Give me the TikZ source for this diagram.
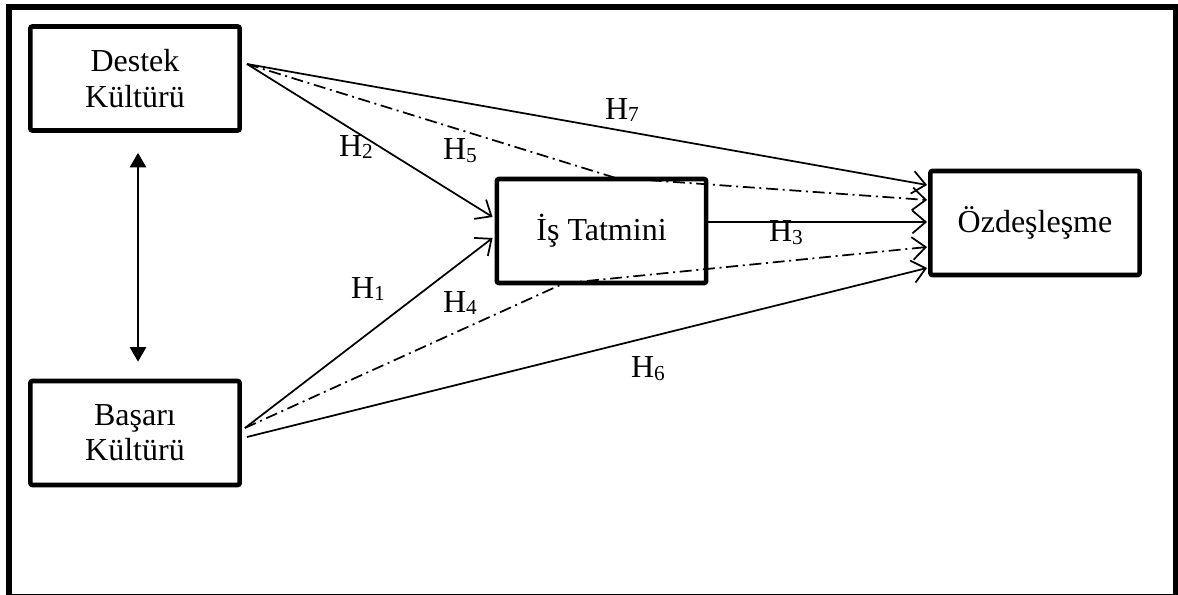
\documentclass[tikz,border=0pt]{standalone}
\usepackage{fontspec}
\setmainfont{Liberation Serif}
\usetikzlibrary{arrows.meta,calc}
% hypothesis label: H with a lowered smaller index
\newcommand\Hyp[1]{H\raisebox{-2.2pt}{\fontsize{16pt}{16pt}\selectfont #1}}
\begin{document}
\begin{tikzpicture}[x=0.75pt,y=-0.75pt,
  construct/.style={draw, line width=3.4pt, rounded corners=1.5pt,
    minimum width=157pt, minimum height=78pt, inner sep=0pt, align=center,
    font=\fontsize{24pt}{26.5pt}\selectfont},
  hyp/.style={font=\fontsize{24pt}{26.5pt}\selectfont, inner sep=0pt},
  direct/.style={line width=1.3pt,
    -{Straight Barb[length=10pt,width=17pt,line width=1.3pt]}},
  indirect/.style={direct, dash pattern=on 9pt off 3.5pt on 1.5pt off 3.5pt},
  corr/.style={line width=2.2pt,
    {Triangle[length=11pt,width=12pt]}-{Triangle[length=11pt,width=12pt]}}
]
\useasboundingbox (0,0) rectangle (1178,595);
\clip (0,0) rectangle (1178,595);

% outer frame
\draw[line width=4.5pt] (8.5,7) rectangle (1176,597);

% constructs
\node[construct] (destek) at (135,78.5) {Destek\\Kültürü};
\node[construct] (basari) at (135,433) {Başarı\\Kültürü};
\node[construct] (tatmin) at (601.5,231) {İş Tatmini};
\node[construct] (ozdes)  at (1035,223) {Özdeşleşme};

% start and bend points of the paths
\coordinate (dOut)  at ($(destek.east)+(5,-14.5)$);
\coordinate (bOut1) at ($(basari.east)+(3,-5)$);
\coordinate (bOut2) at ($(basari.east)+(5,4)$);
\coordinate (h5bend) at ($(tatmin.north)+(13.5,1)$);
\coordinate (h4bend) at ($(tatmin.south)+(-37.5,-2)$);

% correlation between the two cultures
\draw[corr] ($(destek.south)+(3,20)$) -- ($(basari.north)+(3,-17)$);

% direct effects
\draw[direct] (dOut) -- ($(tatmin.west)+(-2,-14)$);
\draw[direct] (bOut1) -- ($(tatmin.west)+(-2,7)$);
\draw[direct] ($(tatmin.east)+(0,-9)$) -- ($(ozdes.west)+(-1,-1)$);
\draw[direct] (dOut) -- ($(ozdes.west)+(-1,-38)$);
\draw[direct] (bOut2) -- ($(ozdes.west)+(-1,45)$);

% mediated effects
\draw[indirect] (dOut) -- (h5bend) -- ($(ozdes.west)+(-1,-23)$);
\draw[indirect] (bOut1) -- (h4bend) -- ($(ozdes.west)+(-1,24)$);

% hypothesis labels
\node[hyp] (h1) at (368,289) {\Hyp{1}};
\node[hyp] (h2) at (356,147) {\Hyp{2}};
\node[hyp] (h3) at (786,233) {\Hyp{3}};
\node[hyp] (h4) at (460,303) {\Hyp{4}};
\node[hyp] (h5) at (460,151) {\Hyp{5}};
\node[hyp] (h6) at (648,369) {\Hyp{6}};
\node[hyp] (h7) at (622,110) {\Hyp{7}};
\end{tikzpicture}
\end{document}
